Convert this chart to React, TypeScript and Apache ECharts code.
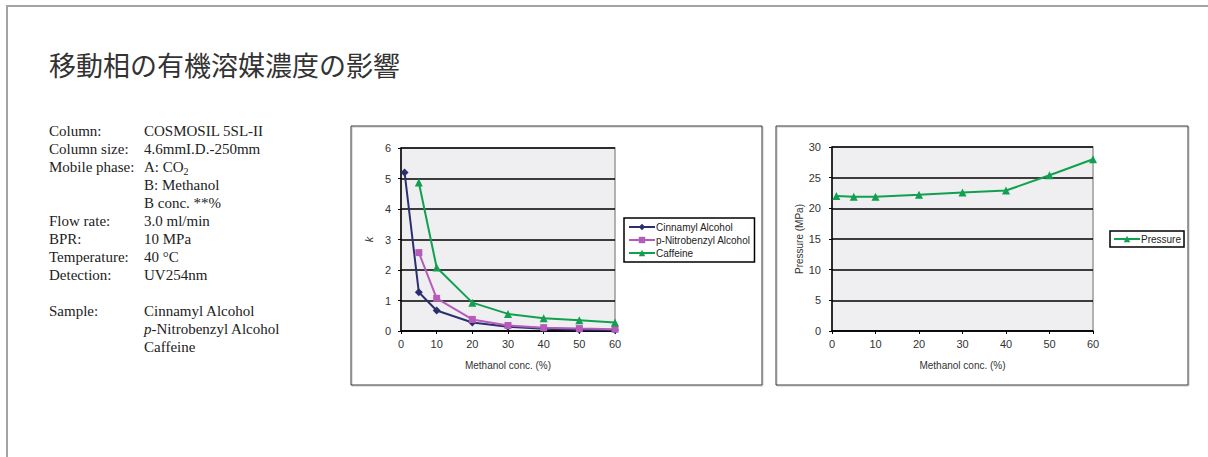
import React, { useEffect, useRef } from "react";
import * as echarts from "echarts";

const titleText = "移動相の有機溶媒濃度の影響";

const paramLabels = ["Column:", "Column size:", "Mobile phase:", "", "", "Flow rate:", "BPR:", "Temperature:", "Detection:", "", "Sample:", "", ""];
const paramValues = [
  "COSMOSIL 5SL-II",
  "4.6mmI.D.-250mm",
  "{n|A: CO}{sub|2}",
  "B: Methanol",
  "B conc. **%",
  "3.0 ml/min",
  "10 MPa",
  "40 °C",
  "UV254nm",
  "",
  "Cinnamyl Alcohol",
  "{i|p}{n|-Nitrobenzyl Alcohol}",
  "Caffeine",
];

const concCinnamyl = [1, 5, 10, 20, 30, 40, 50, 60];
const kCinnamyl = [5.2, 1.27, 0.67, 0.28, 0.14, 0.07, 0.04, 0.03];
const concNitro = [5, 10, 20, 30, 40, 50, 60];
const kNitro = [2.57, 1.07, 0.38, 0.18, 0.11, 0.08, 0.06];
const concCaffeine = [5, 10, 20, 30, 40, 50, 60];
const kCaffeine = [4.87, 2.08, 0.93, 0.56, 0.42, 0.35, 0.28];
const concPressure = [1, 5, 10, 20, 30, 40, 50, 60];
const pressure = [22.0, 21.9, 21.9, 22.2, 22.6, 22.9, 25.4, 28.0];

const pair = (xs: number[], ys: number[]) => xs.map((x, i) => [x, ys[i]]);

const C_NAVY = "#2c2f6f";
const C_PURPLE = "#b55cb8";
const C_GREEN = "#11a04f";
const SANS = "'Liberation Sans', Arial, sans-serif";

export default function App() {
  const ref = useRef<HTMLDivElement>(null);
  useEffect(() => {
    const chart = echarts.init(ref.current!, undefined, { renderer: "svg" });

    const graphics: any[] = [
      { type: "rect", shape: { x: 7, y: 6, width: 1230, height: 500 }, style: { fill: "none", stroke: "#a3a3a6", lineWidth: 2 } },
      { type: "rect", shape: { x: 352, y: 127, width: 411, height: 259 }, style: { fill: "none", stroke: "#c8c8c8", lineWidth: 1 } },
      { type: "rect", shape: { x: 351, y: 126, width: 411, height: 259 }, style: { fill: "none", stroke: "#3a3a3a", lineWidth: 1 } },
      { type: "rect", shape: { x: 777, y: 127, width: 412, height: 259 }, style: { fill: "none", stroke: "#c8c8c8", lineWidth: 1 } },
      { type: "rect", shape: { x: 776, y: 126, width: 412, height: 259 }, style: { fill: "none", stroke: "#3a3a3a", lineWidth: 1 } },
      {
        type: "text",
        x: 49,
        y: 64,
        style: { text: titleText, font: "27px 'Noto Sans CJK JP'", fill: "#333", verticalAlign: "middle" },
      },
    ];
    paramLabels.forEach((t, i) => {
      if (!t) return;
      graphics.push({
        type: "text",
        x: 49,
        y: 131 + i * 18,
        style: { text: t, font: "15px 'Liberation Serif'", fill: "#222", verticalAlign: "middle" },
      });
    });
    paramValues.forEach((t, i) => {
      if (!t) return;
      graphics.push({
        type: "text",
        x: 144,
        y: 131 + i * 18,
        style: {
          text: t,
          font: "15px 'Liberation Serif'",
          fill: "#222",
          verticalAlign: "middle",
          rich: {
            n: { fontFamily: "Liberation Serif", fontSize: 15, fill: "#222" },
            sub: { fontFamily: "Liberation Serif", fontSize: 10, fill: "#222", verticalAlign: "bottom", padding: [8, 0, 0, 0] },
            i: { fontFamily: "Liberation Serif", fontSize: 15, fontStyle: "italic", fill: "#222" },
          },
        },
      });
    });

    const axisLabel = { fontFamily: SANS, fontSize: 11, color: "#333" };
    const xAxisBase = {
      type: "value",
      min: 0,
      max: 60,
      interval: 10,
      name: "Methanol conc. (%)",
      nameLocation: "middle",
      nameGap: 29,
      nameTextStyle: { fontFamily: SANS, fontSize: 10, color: "#333" },
      axisLine: { show: true, lineStyle: { color: "#000", width: 1.5 } },
      axisTick: { show: true, length: 3, lineStyle: { color: "#000" } },
      axisLabel: { ...axisLabel, margin: 7 },
      splitLine: { show: false },
    };

    const option: any = {
      animation: false,
      graphic: graphics,
      grid: [
        { left: 401, top: 148, width: 214, height: 183, show: true, backgroundColor: "#efeff1", borderColor: "#9a9a9a", borderWidth: 1.5 },
        { left: 832, top: 147, width: 261, height: 184, show: true, backgroundColor: "#efeff1", borderColor: "#9a9a9a", borderWidth: 1.5 },
      ],
      xAxis: [
        { ...xAxisBase, gridIndex: 0 },
        { ...xAxisBase, gridIndex: 1 },
      ],
      yAxis: [
        {
          type: "value",
          gridIndex: 0,
          min: 0,
          max: 6,
          interval: 1,
          name: "k",
          nameLocation: "middle",
          nameGap: 27,
          nameTextStyle: { fontFamily: SANS, fontSize: 11, fontStyle: "italic", color: "#333" },
          axisLine: { show: true, lineStyle: { color: "#000", width: 1.5 } },
          axisTick: { show: true, length: 3, lineStyle: { color: "#000" } },
          axisLabel: { ...axisLabel, margin: 10 },
          splitLine: { show: true, lineStyle: { color: "#000", width: 1.5 } },
        },
        {
          type: "value",
          gridIndex: 1,
          min: 0,
          max: 30,
          interval: 5,
          name: "Pressure (MPa)",
          nameLocation: "middle",
          nameGap: 27,
          nameTextStyle: { fontFamily: SANS, fontSize: 10, color: "#333" },
          axisLine: { show: true, lineStyle: { color: "#000", width: 1.5 } },
          axisTick: { show: true, length: 3, lineStyle: { color: "#000" } },
          axisLabel: { ...axisLabel, margin: 11 },
          splitLine: { show: true, lineStyle: { color: "#000", width: 1.5 } },
        },
      ],
      legend: [
        {
          data: ["Cinnamyl Alcohol", "p-Nitrobenzyl Alcohol", "Caffeine"],
          orient: "vertical",
          left: 624,
          top: 218,
          itemWidth: 26,
          itemHeight: 8,
          itemGap: 3,
          padding: [4, 4, 4, 4],
          borderColor: "#000",
          borderWidth: 1.5,
          backgroundColor: "#fff",
          textStyle: { fontFamily: SANS, fontSize: 10, color: "#222", padding: [0, 0, 0, -4] },
        },
        {
          data: ["Pressure"],
          orient: "vertical",
          left: 1110,
          top: 231,
          itemWidth: 26,
          itemHeight: 8,
          padding: [3, 3, 3, 3],
          borderColor: "#000",
          borderWidth: 1.5,
          backgroundColor: "#fff",
          textStyle: { fontFamily: SANS, fontSize: 10, color: "#222", padding: [0, 0, 0, -4] },
        },
      ],
      series: [
        {
          name: "Cinnamyl Alcohol",
          type: "line",
          xAxisIndex: 0,
          yAxisIndex: 0,
          data: pair(concCinnamyl, kCinnamyl),
          symbol: "diamond",
          symbolSize: 8,
          lineStyle: { color: C_NAVY, width: 2 },
          itemStyle: { color: C_NAVY },
        },
        {
          name: "p-Nitrobenzyl Alcohol",
          type: "line",
          xAxisIndex: 0,
          yAxisIndex: 0,
          data: pair(concNitro, kNitro),
          symbol: "rect",
          symbolSize: 7,
          lineStyle: { color: C_PURPLE, width: 2 },
          itemStyle: { color: C_PURPLE },
        },
        {
          name: "Caffeine",
          type: "line",
          xAxisIndex: 0,
          yAxisIndex: 0,
          data: pair(concCaffeine, kCaffeine),
          symbol: "triangle",
          symbolSize: 8,
          lineStyle: { color: C_GREEN, width: 2 },
          itemStyle: { color: C_GREEN },
        },
        {
          name: "Pressure",
          type: "line",
          xAxisIndex: 1,
          yAxisIndex: 1,
          data: pair(concPressure, pressure),
          symbol: "triangle",
          symbolSize: 8,
          lineStyle: { color: C_GREEN, width: 2 },
          itemStyle: { color: C_GREEN },
        },
      ],
    };
    chart.setOption(option);
    return () => chart.dispose();
  }, []);

  return <div ref={ref} style={{ position: "fixed", left: 0, top: 0, width: 1208, height: 457, background: "#fff" }} />;
}
